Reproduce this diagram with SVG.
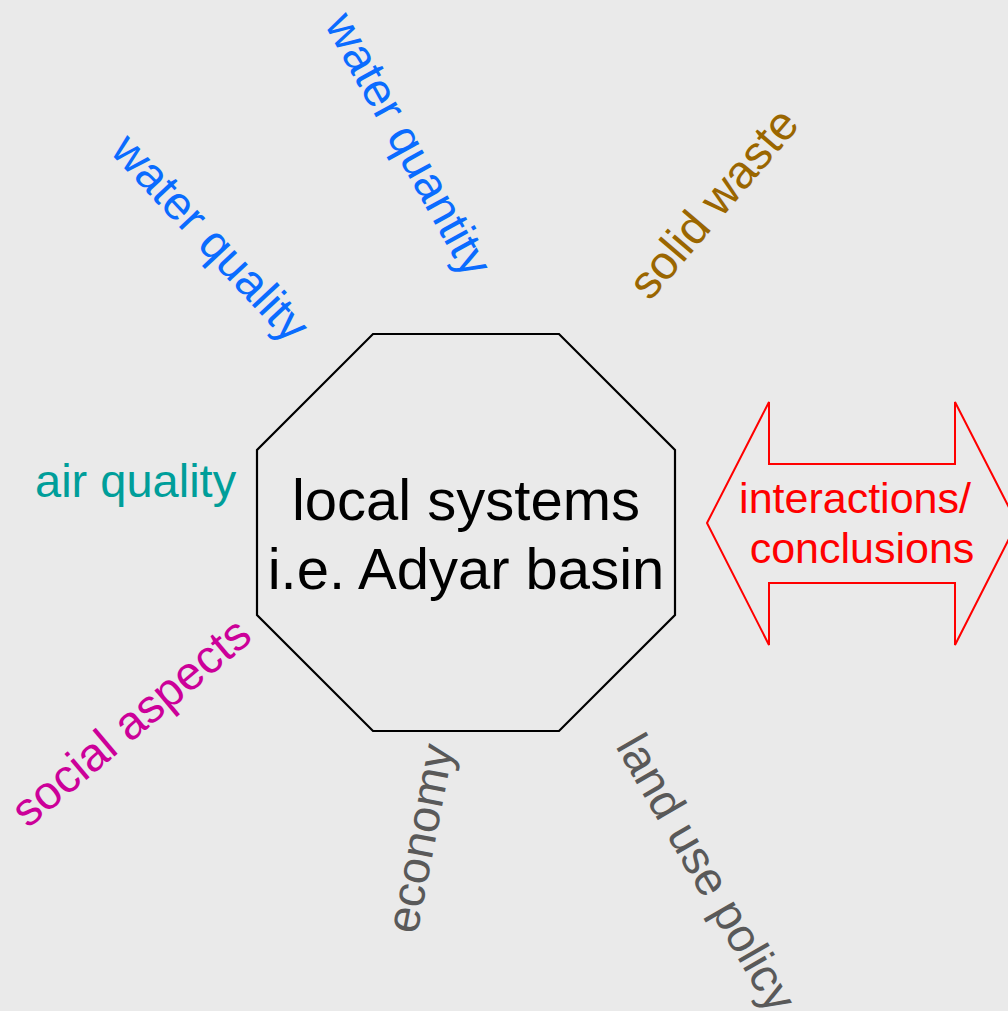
<svg xmlns="http://www.w3.org/2000/svg" width="1008" height="1011" viewBox="0 0 1008 1011">
<style>
text { font-family: "Liberation Sans", Arial, sans-serif; }
.lbl { font-size: 47px; }
.main { font-size: 58px; fill: #000; text-anchor: middle; }
.arrowtxt { font-size: 43px; fill: #ff0000; text-anchor: middle; }
.blue { fill: #0a6cff; }
</style>
<rect width="1008" height="1011" fill="#eaeaea"/>
<g id="connectors"></g>
<g id="local-systems">
<polygon points="373,334 559,334 675,450 675,615 559,731 373,731 257,615 257,450" fill="none" stroke="#000" stroke-width="2.2"/>
<text class="main" x="466" y="520">local systems</text>
<text class="main" x="466" y="589">i.e. Adyar basin</text>
</g>
<g id="interactions">
<polygon points="707,523 769,402 769,464 955,464 955,402 1017,523 955,645 955,583 769,583 769,645" fill="none" stroke="#ff0000" stroke-width="2"/>
<text class="arrowtxt" x="855" y="513">interactions/</text>
<text class="arrowtxt" x="862" y="563">conclusions</text>
</g>
<g id="water-quality"><text class="lbl blue" transform="translate(109,152) rotate(47)">water quality</text></g>
<g id="water-quantity"><text class="lbl blue" transform="translate(324,24) rotate(61)">water quantity</text></g>
<g id="solid-waste"><text class="lbl" fill="#9a6600" transform="translate(650,302) rotate(-49.5)" font-size="46">solid waste</text></g>
<g id="air-quality"><text class="lbl" fill="#009e9a" x="35" y="497" font-size="48">air quality</text></g>
<g id="social-aspects"><text class="lbl" fill="#cc0099" transform="translate(28,829) rotate(-40)">social aspects</text></g>
<g id="economy"><text class="lbl" fill="#595959" transform="translate(417,935) rotate(-79)">economy</text></g>
<g id="land-use-policy"><text class="lbl" fill="#595959" transform="translate(615,746) rotate(60)">land use policy</text></g>
</svg>
